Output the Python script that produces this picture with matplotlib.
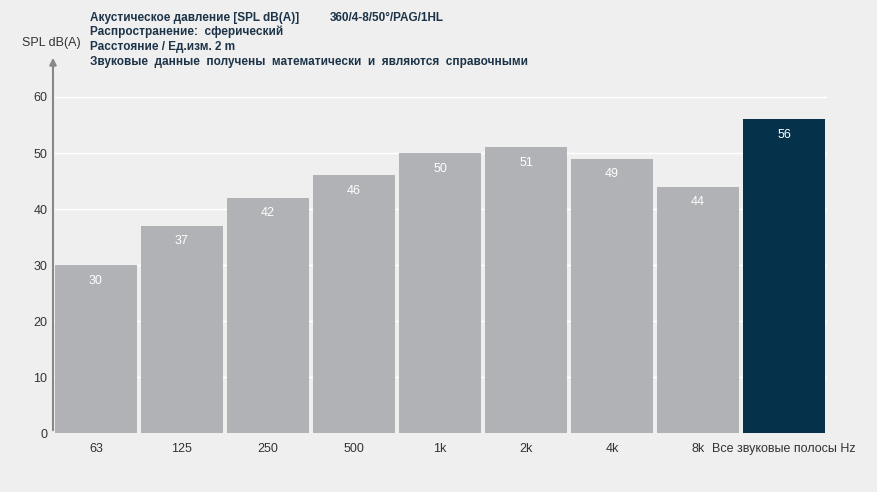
import numpy as np
import matplotlib.pyplot as plt

plt.rcParams['font.family'] = ['Liberation Sans', 'DejaVu Sans']

bands = ['63', '125', '250', '500', '1k', '2k', '4k', '8k', 'Все звуковые полосы Hz']
spl = [30, 37, 42, 46, 50, 51, 49, 44, 56]
yticks = [0, 10, 20, 30, 40, 50, 60]

header = ['Акустическое давление [SPL dB(A)]',
          'Распространение:  сферический',
          'Расстояние / Ед.изм. 2 m',
          'Звуковые  данные  получены  математически  и  являются  справочными']
model = '360/4-8/50°/PAG/1HL'

bg = '#efefef'
fig = plt.figure(figsize=(8.78, 4.92), dpi=100, facecolor=bg)
ax = fig.add_axes([53 / 878, 59 / 492, 774 / 878, 378 / 492])
ax.set_facecolor(bg)

x = np.arange(len(bands))
colors = ['#b1b2b6'] * (len(bands) - 1) + ['#05314a']
ax.bar(x, spl, width=0.95, color=colors, zorder=2)

for xi, v in zip(x, spl):
    ax.text(xi, v - 2.8, str(v), ha='center', va='center', color='white', fontsize=9, zorder=3)

ax.set_xlim(-0.5, 8.5)
ax.set_ylim(0, 67.5)
ax.set_xticks(x)
ax.set_xticklabels(bands, fontsize=9, color='#333333')
ax.set_yticks(yticks)
ax.set_yticklabels([str(t) for t in yticks], fontsize=9, color='#333333')
ax.tick_params(axis='x', length=0, pad=7)
ax.tick_params(axis='y', length=0, pad=4)
ax.grid(axis='y', color='white', linewidth=1, zorder=1)
for s in ax.spines.values():
    s.set_visible(False)

# y axis with arrow
ax.annotate('', xy=(-0.5, 67.5), xytext=(-0.5, 0), annotation_clip=False,
            arrowprops=dict(arrowstyle='-|>', color='#888888', lw=1.5, mutation_scale=10), zorder=4)

fig.text(22 / 878, 1 - 43 / 492, 'SPL dB(A)', fontsize=9, color='#333333', va='center')

ys = [18, 32, 47, 62]
for y, line in zip(ys, header):
    fig.text(90 / 878, 1 - y / 492, line, fontsize=8.5, fontweight='bold', color='#1c3348', va='center')
fig.text(330 / 878, 1 - 18 / 492, model, fontsize=8.5, fontweight='bold', color='#1c3348', va='center')

fig.savefig('out.png', dpi=100, facecolor=bg)
